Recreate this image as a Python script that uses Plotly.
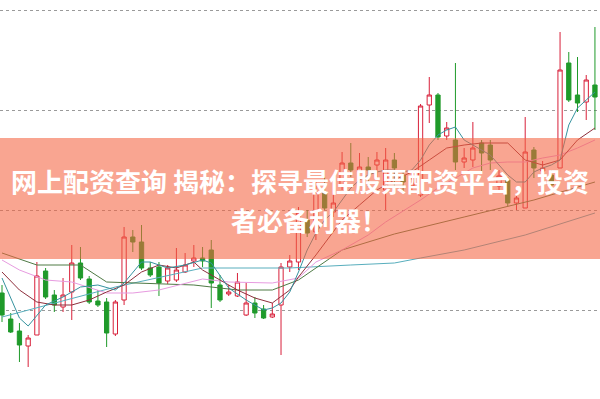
import plotly.graph_objects as go

# ---- data (price units) ----
idx = list(range(69))
opens = [9.17, 8.91, 8.79, 8.64, 8.75, 9.39, 9.15, 9.03, 9.18, 9.47,
         9.31, 9.09, 9.08, 8.76, 9.10, 9.73, 9.68, 9.42, 9.43, 9.29,
         9.30, 9.38, 9.49, 9.52, 9.60, 9.25, 9.16, 9.14, 8.95, 9.07,
         9.01, 8.93, 9.05, 9.43, 9.48, 9.90, 9.78, 10.18, 9.98, 10.25,
         10.47, 10.38, 10.43, 10.45, 10.20, 10.50, 10.35, 10.24, 10.15, 11.05,
         11.15, 10.74, 10.70, 10.48, 10.50, 10.67, 10.65, 10.24, 10.30, 10.07,
         10.02, 10.60, 10.39, 10.35, 10.42, 11.47, 11.15, 11.08, 11.25]
closes = [8.95, 8.78, 8.65, 8.72, 9.34, 9.13, 9.05, 9.15, 9.47, 9.32,
          9.08, 9.05, 8.77, 9.08, 9.73, 9.68, 9.42, 9.35, 9.27, 9.42,
          9.40, 9.45, 9.52, 9.49, 9.27, 9.10, 9.18, 9.28, 9.07, 8.97,
          8.92, 8.96, 9.43, 9.49, 9.97, 9.77, 10.18, 10.02, 10.07, 10.47,
          10.40, 10.43, 10.40, 10.50, 10.50, 10.42, 10.28, 10.32, 11.04, 11.15,
          10.73, 10.82, 10.48, 10.52, 10.62, 10.57, 10.50, 10.34, 10.07, 10.12,
          10.58, 10.42, 10.42, 10.25, 11.40, 11.10, 11.07, 11.30, 11.13]
highs = [9.25, 8.97, 8.87, 8.75, 9.48, 9.42, 9.20, 9.32, 9.65, 9.63,
         9.34, 9.20, 9.12, 9.10, 9.83, 9.80, 9.85, 9.48, 9.48, 9.45,
         9.62, 9.57, 9.65, 9.63, 9.70, 9.35, 9.25, 9.37, 9.27, 9.13,
         9.05, 9.07, 9.47, 9.55, 10.03, 10.00, 10.28, 10.33, 10.17, 10.58,
         10.67, 10.57, 10.53, 10.58, 10.62, 10.57, 10.40, 10.38, 11.06, 11.33,
         11.17, 10.88, 11.47, 10.62, 10.88, 10.70, 10.70, 10.40, 10.33, 10.17,
         10.93, 10.63, 10.49, 10.40, 11.78, 11.58, 11.53, 11.35, 11.83]
lows = [8.88, 8.77, 8.48, 8.43, 8.75, 9.11, 8.98, 8.98, 8.90, 9.30,
        9.06, 9.03, 8.63, 8.74, 9.05, 9.58, 9.40, 9.33, 9.14, 9.26,
        9.28, 9.37, 9.43, 9.43, 9.02, 9.08, 9.14, 9.13, 8.94, 8.92,
        8.91, 8.92, 8.55, 9.38, 9.40, 9.73, 9.70, 10.00, 9.93, 10.20,
        10.33, 10.33, 10.23, 10.30, 10.00, 10.17, 10.17, 10.20, 10.13, 10.87,
        10.70, 10.70, 10.40, 10.42, 10.43, 10.38, 10.40, 10.20, 10.04, 10.00,
        10.02, 10.32, 10.30, 10.20, 10.42, 11.08, 10.98, 10.90, 10.80]

# moving-average lines (candle index, price)
ma5_x = [0, 2, 3, 5, 7, 9, 11, 13, 14, 16, 17, 19, 21, 23, 24, 26, 28, 30, 31,
         32, 33, 34, 35, 36, 37, 38, 39, 40, 41, 42, 43, 44, 45, 46, 47, 48, 49,
         50, 51, 52, 53, 54, 55, 56, 57, 58, 59, 60, 61, 62, 63, 64, 65, 66, 67, 68]
ma5_y = [9.32, 8.92, 8.84, 9.05, 9.13, 9.23, 9.25, 9.20, 9.27, 9.48, 9.48, 9.42,
         9.45, 9.50, 9.47, 9.22, 9.10, 9.00, 9.02, 9.07, 9.18, 9.38, 9.60, 9.77,
         9.90, 9.98, 10.10, 10.22, 10.30, 10.35, 10.38, 10.40, 10.40, 10.38, 10.40,
         10.50, 10.65, 10.75, 10.80, 10.83, 10.70, 10.65, 10.60, 10.55, 10.45,
         10.35, 10.28, 10.28, 10.38, 10.42, 10.45, 10.50, 10.85, 11.02, 11.10, 11.18]
ma10_x = [0, 2, 4, 6, 8, 10, 12, 14, 16, 18, 20, 22, 23, 25, 27, 29, 31, 33, 34,
          36, 39, 41, 43, 45, 47, 49, 51, 53, 55, 57, 58, 60, 62, 64, 66, 68]
ma10_y = [9.38, 9.20, 9.08, 9.05, 9.05, 9.10, 9.18, 9.25, 9.38, 9.45, 9.42, 9.48,
          9.40, 9.30, 9.20, 9.12, 9.07, 9.20, 9.33, 9.55, 9.90, 10.05, 10.20, 10.30,
          10.38, 10.50, 10.62, 10.65, 10.67, 10.67, 10.67, 10.50, 10.45, 10.50,
          10.70, 10.82]
ma20_x = [0, 2, 5, 8, 12, 15, 18, 21, 23, 26, 31, 34, 36, 39, 42, 44, 48, 50, 52,
          54, 56, 58, 60, 62, 64, 66, 68]
ma20_y = [9.50, 9.40, 9.30, 9.28, 9.17, 9.17, 9.20, 9.27, 9.31, 9.28, 9.27, 9.32,
          9.48, 9.60, 9.75, 9.88, 10.10, 10.22, 10.32, 10.42, 10.47, 10.48, 10.48,
          10.52, 10.55, 10.62, 10.70]
ma30_x = [0, 4, 9, 12, 22, 27, 31, 34, 39, 45, 53, 61, 68]
ma30_y = [9.57, 9.45, 9.45, 9.28, 9.25, 9.20, 9.20, 9.30, 9.60, 9.76, 9.93, 10.10, 10.28]
ma60_x = [0, 13, 23, 33, 40, 45, 48, 53, 60, 68]
ma60_y = [8.93, 9.23, 9.42, 9.42, 9.45, 9.47, 9.52, 9.60, 9.75, 9.97]

title1 = "网上配资查询 揭秘：探寻最佳股票配资平台，投资"
title2 = "者必备利器！"

RED = "#d8203a"
GREEN = "#1f9a2a"

fig = go.Figure()
fig.add_trace(go.Candlestick(
    x=idx, open=opens, high=highs, low=lows, close=closes,
    increasing=dict(line=dict(color=RED, width=1), fillcolor="white"),
    decreasing=dict(line=dict(color=GREEN, width=1), fillcolor=GREEN),
    whiskerwidth=0, showlegend=False, hoverinfo="skip"))

for xs, ys, col in [(ma60_x, ma60_y, "#58aebd"), (ma30_x, ma30_y, "#4f7a45"),
                    (ma20_x, ma20_y, "#e79be0"), (ma10_x, ma10_y, "#8e2f3c"),
                    (ma5_x, ma5_y, "#36939f")]:
    fig.add_trace(go.Scatter(x=xs, y=ys, mode="lines",
                             line=dict(color=col, width=1),
                             showlegend=False, hoverinfo="skip"))

fig.add_shape(type="rect", xref="paper", yref="paper",
              x0=0, x1=1, y0=1 - 259 / 399, y1=1 - 138 / 399,
              fillcolor="rgba(245,100,65,0.58)", line=dict(width=0), layer="above")

fig.add_annotation(text="<b>" + title1 + "</b>", xref="paper", yref="paper",
                   x=0.5, y=1 - 180 / 399, showarrow=False, xanchor="center", yanchor="middle",
                   font=dict(family="Noto Sans CJK SC", size=26, color="white"))
fig.add_annotation(text="<b>" + title2 + "</b>", xref="paper", yref="paper",
                   x=0.5 + 9 / 600, y=1 - 219 / 399, showarrow=False, xanchor="center", yanchor="middle",
                   font=dict(family="Noto Sans CJK SC", size=26, color="white"))

fig.update_layout(
    width=600, height=399, margin=dict(l=0, r=0, t=0, b=0),
    paper_bgcolor="white", plot_bgcolor="white",
    xaxis=dict(range=[-0.23, 68.58], showgrid=False, zeroline=False,
               showticklabels=False, ticks="", rangeslider=dict(visible=False)),
    yaxis=dict(range=[8.11, 12.1], tick0=9, dtick=1, showgrid=True,
               gridcolor="#9a9a9a", griddash="dot", gridwidth=1,
               zeroline=False, showticklabels=False, ticks=""),
)

fig.write_html("out.html")
